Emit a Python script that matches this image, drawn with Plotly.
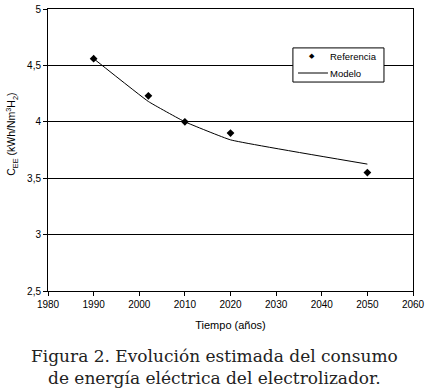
import plotly.graph_objects as go

ref_years = [1990, 2002, 2010, 2020, 2050]
ref_vals = [4.56, 4.23, 4.00, 3.90, 3.55]
mod_years = [1990, 2002, 2010, 2020, 2050]
mod_vals = [4.56, 4.18, 4.00, 3.84, 3.625]
x_ticks = [1980, 1990, 2000, 2010, 2020, 2030, 2040, 2050, 2060]
y_ticks = [2.5, 3, 3.5, 4, 4.5, 5]
series_names = ["Referencia", "Modelo"]

fig = go.Figure()
fig.add_trace(go.Scatter(x=ref_years, y=ref_vals, mode="markers", name=series_names[0],
                         marker=dict(symbol="diamond", size=6, color="black"), showlegend=False))
fig.add_trace(go.Scatter(x=mod_years, y=mod_vals, mode="lines", name=series_names[1],
                         line=dict(color="black", width=1, shape="spline", smoothing=0.3), showlegend=False))

sans = "Liberation Sans, Arial"
axis_font = dict(family=sans, size=10, color="black")
fig.update_layout(
    width=430, height=392,
    margin=dict(l=48, r=17, t=9, b=101, autoexpand=False),
    paper_bgcolor="white", plot_bgcolor="white",
    separators=", ",
    xaxis=dict(range=[1980, 2060], tickvals=x_ticks, showgrid=False, automargin=False,
               showline=True, linecolor="black", linewidth=1, mirror=True,
               ticks="outside", ticklen=4, tickcolor="black", tickfont=axis_font,
               title=dict(text="Tiempo (años)", font=dict(family=sans, size=11, color="black"), standoff=12),
               zeroline=False),
    yaxis=dict(range=[2.5, 5], tickvals=y_ticks, tickformat=".1~f", automargin=False,
               showgrid=True, gridcolor="black", gridwidth=1,
               showline=True, linecolor="black", linewidth=1, mirror=True,
               ticks="outside", ticklen=4, tickcolor="black", tickfont=axis_font,
               zeroline=False),
)
# y-axis title
fig.add_annotation(text="C<sub>EE</sub> (kWh/Nm<sup>3</sup>H<sub>2</sub>)", textangle=-90,
                   xref="paper", yref="paper", x=-0.099, y=0.557, xanchor="center", yanchor="middle",
                   showarrow=False, font=dict(family=sans, size=10.5, color="black"))
# manual legend
fig.add_shape(type="rect", xref="paper", yref="paper", x0=0.671, x1=0.9205, y0=0.741, y1=0.862,
              line=dict(color="black", width=1), fillcolor="white", layer="above")
fig.add_shape(type="line", xref="paper", yref="paper", x0=0.685, x1=0.767, y0=0.773, y1=0.773,
              line=dict(color="black", width=1), layer="above")
fig.add_annotation(text="◆", xref="paper", yref="paper", x=0.723, y=0.833, xanchor="center", yanchor="middle",
                   showarrow=False, font=dict(family="DejaVu Sans", size=7, color="black"))
fig.add_annotation(text=series_names[0], xref="paper", yref="paper", x=0.767, y=0.833, xanchor="left", yanchor="middle",
                   showarrow=False, font=dict(family=sans, size=9.5, color="black"))
fig.add_annotation(text=series_names[1], xref="paper", yref="paper", x=0.767, y=0.773, xanchor="left", yanchor="middle",
                   showarrow=False, font=dict(family=sans, size=9.5, color="black"))
# caption
fig.add_annotation(text="Figura 2. Evolución estimada del consumo<br>de energía eléctrica del electrolizador.",
                   xref="paper", yref="paper", x=0.4575, y=-0.188, xanchor="center", yanchor="top",
                   showarrow=False, align="center",
                   font=dict(family="DejaVu Serif", size=17, color="#222"))
fig.write_html("out.html", config={"displayModeBar": False},
               post_script="document.body.style.margin='0';")
